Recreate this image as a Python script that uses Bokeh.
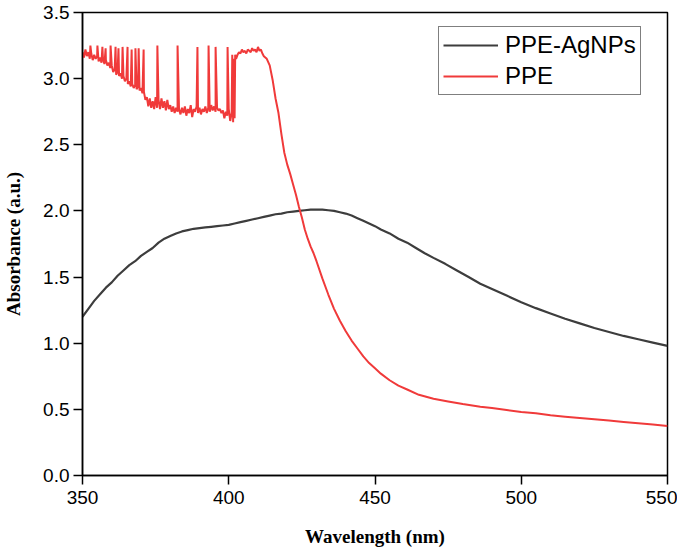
import numpy as np
from bokeh.plotting import figure
from bokeh.models import Legend, LegendItem, Range1d, FixedTicker, CustomJSTickFormatter
from bokeh.embed import file_html
from bokeh.resources import INLINE

# ---------------- data ----------------
# PPE-AgNPs (black curve)
agnp_x = [350, 352, 354, 356, 358, 360, 362, 364, 366, 368, 370, 372, 374, 376, 378, 380,
          382, 384, 386, 388, 390, 392, 394, 396, 398, 400, 402, 404, 406, 408, 410, 412,
          414, 416, 418, 420, 422, 424, 426, 428, 430, 432, 434, 436, 438, 440, 442, 444,
          446, 448, 450, 452, 455, 458, 461, 464, 467, 470, 474, 478, 482, 486, 490, 495,
          500, 505, 510, 515, 520, 525, 530, 535, 540, 545, 550]
agnp_y = [1.20, 1.26, 1.32, 1.37, 1.42, 1.46, 1.51, 1.55, 1.59, 1.62, 1.66, 1.69, 1.72, 1.76, 1.79, 1.81,
          1.83, 1.845, 1.855, 1.865, 1.87, 1.875, 1.88, 1.885, 1.89, 1.895, 1.905, 1.915, 1.925, 1.935, 1.945, 1.955,
          1.965, 1.975, 1.98, 1.99, 1.995, 2.0, 2.005, 2.01, 2.01, 2.01, 2.005, 2.0, 1.99, 1.98, 1.965, 1.945,
          1.925, 1.905, 1.885, 1.86, 1.83, 1.79, 1.76, 1.72, 1.68, 1.645, 1.60, 1.55, 1.50, 1.45, 1.41, 1.36,
          1.31, 1.265, 1.225, 1.185, 1.15, 1.115, 1.085, 1.055, 1.03, 1.005, 0.98]

# PPE (red curve): noisy saturated part, sampled every 0.5 nm from 350 to 412
ppe_noisy_x = [350 + 0.5 * i for i in range(125)]
ppe_noisy_y = [3.20, 3.16, 3.22, 3.17, 3.20, 3.15, 3.19, 3.14, 3.18, 3.15,
               3.17, 3.13, 3.16, 3.12, 3.15, 3.11, 3.14, 3.10, 3.12, 3.08,
               3.10, 3.05, 3.07, 3.03, 3.05, 3.02, 3.04, 3.00, 3.02, 2.98,
               3.00, 2.96, 2.98, 2.94, 2.96, 2.93, 2.95, 2.92, 2.94, 2.91,
               2.93, 2.89, 2.90, 2.84, 2.86, 2.79, 2.85, 2.78, 2.83, 2.77,
               2.86, 2.78, 2.84, 2.77, 2.85, 2.78, 2.83, 2.76, 2.84, 2.77,
               2.80, 2.75, 2.79, 2.74, 2.78, 2.75, 2.77, 2.73, 2.78, 2.74,
               2.79, 2.72, 2.77, 2.74, 2.80, 2.71, 2.77, 2.75, 2.79, 2.74,
               2.78, 2.73, 2.77, 2.75, 2.79, 2.74, 2.78, 2.75, 2.80, 2.76,
               2.79, 2.75, 2.78, 2.76, 2.77, 2.74, 2.76, 2.70, 2.75, 2.72,
               2.77, 2.68, 2.74, 2.67, 2.70, 3.15, 3.18, 3.20, 3.19, 3.22,
               3.20, 3.21, 3.19, 3.22, 3.21, 3.20, 3.23, 3.21, 3.22, 3.20,
               3.24, 3.21, 3.22, 3.19, 3.17]
# sharp spikes in the saturated region
spike_x = [352.7, 355.1, 356.8, 357.9, 359.6, 361.3, 362.3, 363.7, 365.4, 366.8, 368.1,
           369.2, 370.9, 375.6, 382.5, 389.3, 393.1, 395.5, 399.6, 401.2, 401.7, 402.2]
spike_y = [3.25, 3.25, 3.24, 3.23, 3.25, 3.24, 3.23, 3.24, 3.24, 3.22, 3.23,
           3.23, 3.22, 3.25, 3.25, 3.24, 3.25, 3.24, 3.24, 3.18, 3.15, 3.18]
# smooth falling part
ppe_smooth_x = [413, 414, 415, 416, 417, 418, 419, 420, 421, 422, 423, 424, 425, 426, 427, 428,
                429, 430, 432, 434, 436, 438, 440, 442, 444, 446, 448, 450, 452, 455, 458, 461,
                465, 470, 475, 480, 486, 490, 495, 500, 505, 510, 515, 520, 525, 530, 535, 540,
                545, 550]
ppe_smooth_y = [3.15, 3.10, 2.99, 2.85, 2.74, 2.58, 2.44, 2.35, 2.28, 2.20, 2.12, 2.03, 1.95, 1.86, 1.79, 1.73,
                1.68, 1.62, 1.49, 1.37, 1.26, 1.17, 1.09, 1.02, 0.96, 0.90, 0.85, 0.81, 0.77, 0.72, 0.68, 0.65,
                0.61, 0.58, 0.56, 0.54, 0.52, 0.51, 0.495, 0.48, 0.47, 0.455, 0.445, 0.435, 0.425, 0.415, 0.405, 0.395,
                0.385, 0.375]

x_ticks = [350, 400, 450, 500, 550]
y_ticks = [0.0, 0.5, 1.0, 1.5, 2.0, 2.5, 3.0, 3.5]

# combine the PPE pieces (sorted by wavelength)
px = np.array(ppe_noisy_x + spike_x + ppe_smooth_x)
py = np.array(ppe_noisy_y + spike_y + ppe_smooth_y)
order = np.argsort(px, kind="stable")
px, py = px[order], py[order]

BLACK = "#3d3d3d"
RED = "#f03a3a"

p = figure(width=677, height=549, output_backend="svg", toolbar_location=None,
           x_range=Range1d(350, 550), y_range=Range1d(0, 3.5),
           min_border_left=82, min_border_right=10, min_border_top=12, min_border_bottom=72)

r1 = p.line(agnp_x, agnp_y, line_color=BLACK, line_width=2.2)
r2 = p.line(px, py, line_color=RED, line_width=2.0)

p.xgrid.visible = False
p.ygrid.visible = False
p.outline_line_color = "black"
p.outline_line_width = 1.5
p.background_fill_color = "white"
p.border_fill_color = "white"

for ax in (p.xaxis[0], p.yaxis[0]):
    ax.axis_line_color = "black"
    ax.axis_line_width = 1.5
    ax.major_tick_line_color = "black"
    ax.major_tick_line_width = 1.5
    ax.major_tick_out = 9
    ax.major_tick_in = 0
    ax.minor_tick_line_color = None
    ax.major_label_text_font = "Liberation Sans"
    ax.major_label_text_font_size = "19px"
    ax.major_label_text_color = "black"
    ax.axis_label_text_font = "Liberation Serif"
    ax.axis_label_text_font_style = "bold"
    ax.axis_label_text_font_size = "19px"
    ax.axis_label_text_color = "black"

p.xaxis[0].ticker = FixedTicker(ticks=x_ticks)
p.yaxis[0].ticker = FixedTicker(ticks=y_ticks)
p.yaxis[0].formatter = CustomJSTickFormatter(code="return tick.toFixed(1);")
p.xaxis.axis_label = "Wavelength (nm)"
p.yaxis.axis_label = "Absorbance (a.u.)"
p.xaxis.major_label_standoff = 6
p.yaxis.major_label_standoff = 4
p.xaxis.axis_label_standoff = 19
p.yaxis.axis_label_standoff = 16

legend = Legend(items=[LegendItem(label="PPE-AgNPs", renderers=[r1]),
                       LegendItem(label="PPE", renderers=[r2])],
                location=(356, 380))
legend.border_line_color = "black"
legend.border_line_width = 1.2
legend.background_fill_alpha = 1.0
legend.padding = 4
legend.margin = 0
legend.spacing = 3
legend.glyph_width = 55
legend.glyph_height = 26
legend.label_height = 26
legend.label_standoff = 7
legend.label_text_font = "Liberation Sans"
legend.label_text_font_size = "24px"
legend.label_text_color = "black"
p.add_layout(legend, "center")

open("out.html", "w").write(file_html(p, INLINE))
